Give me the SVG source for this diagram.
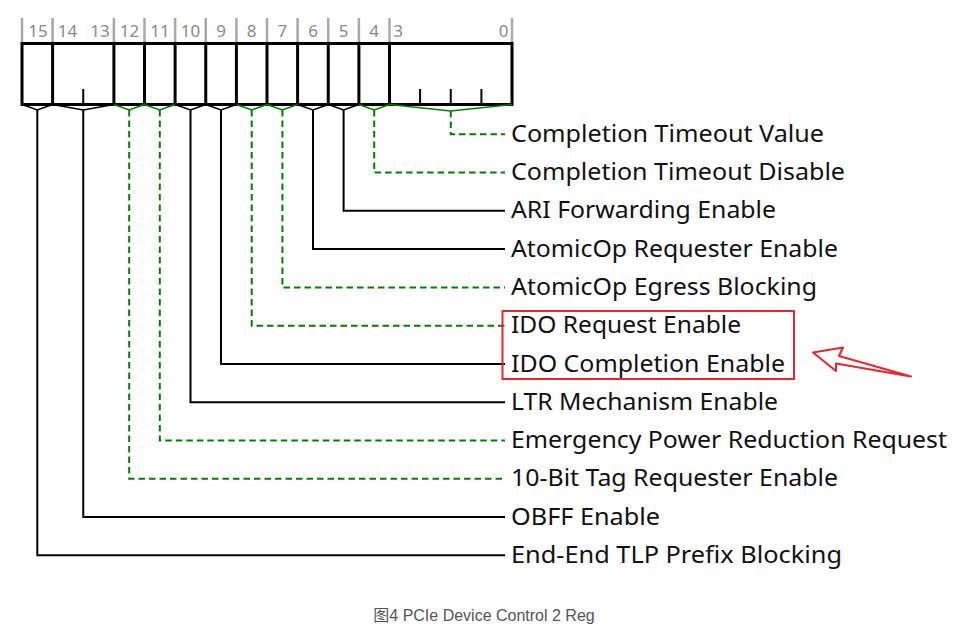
<svg xmlns="http://www.w3.org/2000/svg" width="956" height="631" viewBox="0 0 956 631">
  <style>
    .bitno { font-family: "Noto Sans", "Open Sans", sans-serif; font-size: 17px; fill: #8a8a8a; text-anchor: middle; }
    .lbl { font-family: "Noto Sans", "Open Sans", sans-serif; font-size: 23px; fill: #111; }
    .cap { font-family: "Liberation Sans", "Noto Sans CJK SC", sans-serif; font-size: 16px; fill: #555; text-anchor: middle; }
    .grid { stroke: #a8a8a8; stroke-width: 2.5; fill: none; }
    .frame { stroke: #000; stroke-width: 3; fill: #fff; }
    .div { stroke: #000; stroke-width: 3; }
    .tick { stroke: #000; stroke-width: 2; }
    .vb { stroke: #000; stroke-width: 1.6; fill: none; }
    .vg { stroke: #008000; stroke-width: 1.6; fill: none; }
    .sb { stroke: #000; stroke-width: 2; fill: none; }
    .sg { stroke: #008000; stroke-width: 2; fill: none; stroke-dasharray: 6.5 4; }
    .hl { stroke: #e8262b; stroke-width: 2; fill: none; }
  </style>

  <rect width="956" height="631" fill="#fff"/>

  <!-- register: bit boundaries every 30.625px from x=22 -->
  <g id="register">
    <g class="grid">
      <line x1="22" y1="18" x2="22" y2="43"/>
      <line x1="52.6" y1="18" x2="52.6" y2="43"/>
      <line x1="113.9" y1="18" x2="113.9" y2="43"/>
      <line x1="144.5" y1="18" x2="144.5" y2="43"/>
      <line x1="175.1" y1="18" x2="175.1" y2="43"/>
      <line x1="205.75" y1="18" x2="205.75" y2="43"/>
      <line x1="236.4" y1="18" x2="236.4" y2="43"/>
      <line x1="267" y1="18" x2="267" y2="43"/>
      <line x1="297.6" y1="18" x2="297.6" y2="43"/>
      <line x1="328.25" y1="18" x2="328.25" y2="43"/>
      <line x1="358.9" y1="18" x2="358.9" y2="43"/>
      <line x1="389.5" y1="18" x2="389.5" y2="43"/>
      <line x1="512" y1="18" x2="512" y2="43"/>
    </g>
    <g>
      <text class="bitno" x="38" y="37">15</text>
      <text class="bitno" x="67.5" y="37">14</text>
      <text class="bitno" x="100" y="37">13</text>
      <text class="bitno" x="129.5" y="37">12</text>
      <text class="bitno" x="160" y="37">11</text>
      <text class="bitno" x="190.5" y="37">10</text>
      <text class="bitno" x="221" y="37">9</text>
      <text class="bitno" x="251.7" y="37">8</text>
      <text class="bitno" x="282.4" y="37">7</text>
      <text class="bitno" x="313" y="37">6</text>
      <text class="bitno" x="343.6" y="37">5</text>
      <text class="bitno" x="374.2" y="37">4</text>
      <text class="bitno" x="398" y="37">3</text>
      <text class="bitno" x="503.5" y="37">0</text>
    </g>
    <rect class="frame" x="22" y="43.5" width="490" height="61"/>
    <g class="div">
      <line x1="52.6" y1="43.5" x2="52.6" y2="104.5"/>
      <line x1="113.9" y1="43.5" x2="113.9" y2="104.5"/>
      <line x1="144.5" y1="43.5" x2="144.5" y2="104.5"/>
      <line x1="175.1" y1="43.5" x2="175.1" y2="104.5"/>
      <line x1="205.75" y1="43.5" x2="205.75" y2="104.5"/>
      <line x1="236.4" y1="43.5" x2="236.4" y2="104.5"/>
      <line x1="267" y1="43.5" x2="267" y2="104.5"/>
      <line x1="297.6" y1="43.5" x2="297.6" y2="104.5"/>
      <line x1="328.25" y1="43.5" x2="328.25" y2="104.5"/>
      <line x1="358.9" y1="43.5" x2="358.9" y2="104.5"/>
      <line x1="389.5" y1="43.5" x2="389.5" y2="104.5"/>
    </g>
    <g class="tick">
      <line x1="83.25" y1="89" x2="83.25" y2="104"/>
      <line x1="420.1" y1="89" x2="420.1" y2="104"/>
      <line x1="450.75" y1="89" x2="450.75" y2="104"/>
      <line x1="481.4" y1="89" x2="481.4" y2="104"/>
    </g>
  </g>

  <!-- field connectors -->
  <g id="connectors">
    <path class="vg" d="M389.5 104.5 L450.75 111 L512 104.5"/>
    <path class="sg" d="M450.75 111 V134.3 H505"/>
    <path class="vg" d="M358.9 104.5 L374.2 110 L389.5 104.5"/>
    <path class="sg" d="M374.2 110 V172.6 H505"/>
    <path class="vb" d="M328.25 104.5 L343.6 110 L358.9 104.5"/>
    <path class="sb" d="M343.6 110 V210.8 H505"/>
    <path class="vb" d="M297.6 104.5 L313 110 L328.25 104.5"/>
    <path class="sb" d="M313 110 V249.1 H505"/>
    <path class="vg" d="M267 104.5 L282.4 110 L297.6 104.5"/>
    <path class="sg" d="M282.4 110 V287.4 H505"/>
    <path class="vg" d="M236.4 104.5 L251.7 110 L267 104.5"/>
    <path class="sg" d="M251.7 110 V325.7 H505"/>
    <path class="vb" d="M205.75 104.5 L221 110 L236.4 104.5"/>
    <path class="sb" d="M221 110 V363.9 H505"/>
    <path class="vb" d="M175.1 104.5 L190.5 110 L205.75 104.5"/>
    <path class="sb" d="M190.5 110 V402.2 H505"/>
    <path class="vg" d="M144.5 104.5 L159.8 110 L175.1 104.5"/>
    <path class="sg" d="M159.8 110 V440.5 H505"/>
    <path class="vg" d="M113.9 104.5 L129.2 110 L144.5 104.5"/>
    <path class="sg" d="M129.2 110 V478.7 H505"/>
    <path class="vb" d="M52.6 104.5 L83.25 110 L113.9 104.5"/>
    <path class="sb" d="M83.25 110 V517 H505"/>
    <path class="vb" d="M22 104.5 L37.3 110 L52.6 104.5"/>
    <path class="sb" d="M37.3 110 V555.3 H505"/>
  </g>

  <!-- field names -->
  <g id="f-cto-value"><text class="lbl" x="511" y="141.9" textLength="313" lengthAdjust="spacingAndGlyphs">Completion Timeout Value</text></g>
  <g id="f-cto-disable"><text class="lbl" x="511" y="180.2" textLength="334" lengthAdjust="spacingAndGlyphs">Completion Timeout Disable</text></g>
  <g id="f-ari"><text class="lbl" x="511" y="218.4" textLength="265" lengthAdjust="spacingAndGlyphs">ARI Forwarding Enable</text></g>
  <g id="f-atomic-req"><text class="lbl" x="511" y="256.7" textLength="327" lengthAdjust="spacingAndGlyphs">AtomicOp Requester Enable</text></g>
  <g id="f-atomic-egress"><text class="lbl" x="511" y="295" textLength="306" lengthAdjust="spacingAndGlyphs">AtomicOp Egress Blocking</text></g>
  <g id="f-ido-req"><text class="lbl" x="511" y="333.3" textLength="230" lengthAdjust="spacingAndGlyphs">IDO Request Enable</text></g>
  <g id="f-ido-cpl"><text class="lbl" x="511" y="371.5" textLength="274" lengthAdjust="spacingAndGlyphs">IDO Completion Enable</text></g>
  <g id="f-ltr"><text class="lbl" x="511" y="409.8" textLength="267" lengthAdjust="spacingAndGlyphs">LTR Mechanism Enable</text></g>
  <g id="f-epr"><text class="lbl" x="511" y="448.1" textLength="436" lengthAdjust="spacingAndGlyphs">Emergency Power Reduction Request</text></g>
  <g id="f-10bit"><text class="lbl" x="511" y="486.3" textLength="327" lengthAdjust="spacingAndGlyphs">10-Bit Tag Requester Enable</text></g>
  <g id="f-obff"><text class="lbl" x="511" y="524.6" textLength="149" lengthAdjust="spacingAndGlyphs">OBFF Enable</text></g>
  <g id="f-e2e"><text class="lbl" x="511" y="562.9" textLength="331" lengthAdjust="spacingAndGlyphs">End-End TLP Prefix Blocking</text></g>

  <!-- highlight -->
  <g id="highlight">
    <rect class="hl" x="502.5" y="311" width="291.5" height="68"/>
    <path class="hl" stroke-width="2.5" stroke-linejoin="round" d="M813 352.5 L843 347.5 L839 356 L911 376.5 L836 363.5 L836 371 Z"/>
  </g>

  <text class="cap" x="484" y="621">图4 PCIe Device Control 2 Reg</text>
</svg>
